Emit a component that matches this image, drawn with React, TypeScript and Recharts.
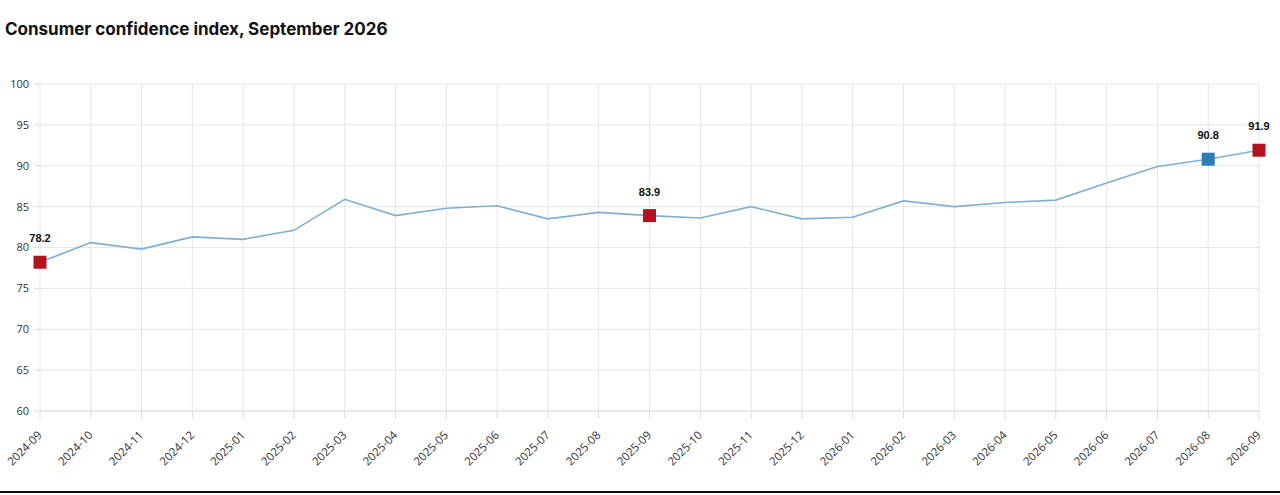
import React from "react";
import { LineChart, Line, XAxis, YAxis, CartesianGrid, LabelList } from "recharts";

const months = [
  "2024-09", "2024-10", "2024-11", "2024-12", "2025-01", "2025-02", "2025-03",
  "2025-04", "2025-05", "2025-06", "2025-07", "2025-08", "2025-09", "2025-10",
  "2025-11", "2025-12", "2026-01", "2026-02", "2026-03", "2026-04", "2026-05",
  "2026-06", "2026-07", "2026-08", "2026-09",
];
const confidence = [
  78.2, 80.6, 79.8, 81.3, 81.0, 82.1, 85.9, 83.9, 84.8, 85.1, 83.5, 84.3, 83.9,
  83.6, 85.0, 83.5, 83.7, 85.7, 85.0, 85.5, 85.8, 87.9, 89.9, 90.8, 91.9,
];
const redMarks = ["2024-09", "2025-09", "2026-09"];
const blueMarks = ["2026-08"];
const yTicks = [60, 65, 70, 75, 80, 85, 90, 95, 100];

const data = months.map((m, i) => ({ month: m, value: confidence[i] }));

const RED = "#b0151f";
const BLUE = "#2f7cb8";
const LINE = "#7fb0d4";

function markColor(month: string) {
  if (redMarks.includes(month)) return RED;
  if (blueMarks.includes(month)) return BLUE;
  return null;
}

const SquareDot = (props: any) => {
  const { cx, cy, payload } = props;
  const c = markColor(payload.month);
  if (!c) return <g />;
  return <rect x={cx - 6.5} y={cy - 6.5} width={13} height={13} fill={c} />;
};

const MarkLabel = (props: any) => {
  const { x, y, value, index } = props;
  if (!markColor(months[index])) return null;
  return (
    <text
      x={x}
      y={y - 20}
      textAnchor="middle"
      fontFamily="Liberation Sans, Arial, sans-serif"
      fontWeight={700}
      fontSize={11}
      fill="#111"
    >
      {value.toFixed(1)}
    </text>
  );
};

// rotated month labels under the axis
const MonthTick = (props: any) => {
  const { x, y, payload } = props;
  return (
    <g transform={`translate(${x - 3},${y + 12})`}>
      <text
        x={0}
        y={0}
        dy={6}
        dx={2}
        textAnchor="end"
        transform="rotate(-45)"
        fontFamily="Open Sans, sans-serif"
        fontSize={11.5}
        fill="#333"
      >
        {payload.value}
      </text>
    </g>
  );
};

export default function App() {
  return (
    <div style={{ position: "relative", width: 1280, height: 495, background: "#fff", overflow: "hidden" }}>
      <style>{"body{margin:0}"}</style>
      <div
        style={{
          position: "absolute",
          left: 5,
          top: 19,
          fontFamily: "Inter, sans-serif",
          fontWeight: 700,
          fontSize: 17,
          color: "#111",
        }}
      >
        Consumer confidence index, September 2026
      </div>
      <div style={{ position: "absolute", left: 0, top: 0 }}>
        <LineChart width={1280} height={490} data={data} margin={{ top: 84, right: 21, bottom: 19, left: 0 }}>
          <CartesianGrid stroke="#e6e6e6" />
          <XAxis
            dataKey="month"
            interval={0}
            height={60}
            tick={<MonthTick />}
            tickSize={8}
            stroke="#dcdcdc"
            tickLine={{ stroke: "#dcdcdc" }}
          />
          <YAxis
            width={40}
            domain={[60, 100]}
            ticks={yTicks}
            interval={0}
            stroke="#dcdcdc"
            tickMargin={5}
            tick={{ fill: "#333", fontSize: 11, fontFamily: "Open Sans, sans-serif" }}
            tickLine={{ stroke: "#dcdcdc" }}
            axisLine={false}
          />
          <Line
            type="linear"
            dataKey="value"
            stroke={LINE}
            strokeWidth={1.6}
            dot={<SquareDot />}
            activeDot={false}
            isAnimationActive={false}
          >
            <LabelList dataKey="value" content={<MarkLabel />} />
          </Line>
        </LineChart>
      </div>
      <div style={{ position: "absolute", left: 0, top: 491, width: 1280, height: 2, background: "#111" }} />
    </div>
  );
}
